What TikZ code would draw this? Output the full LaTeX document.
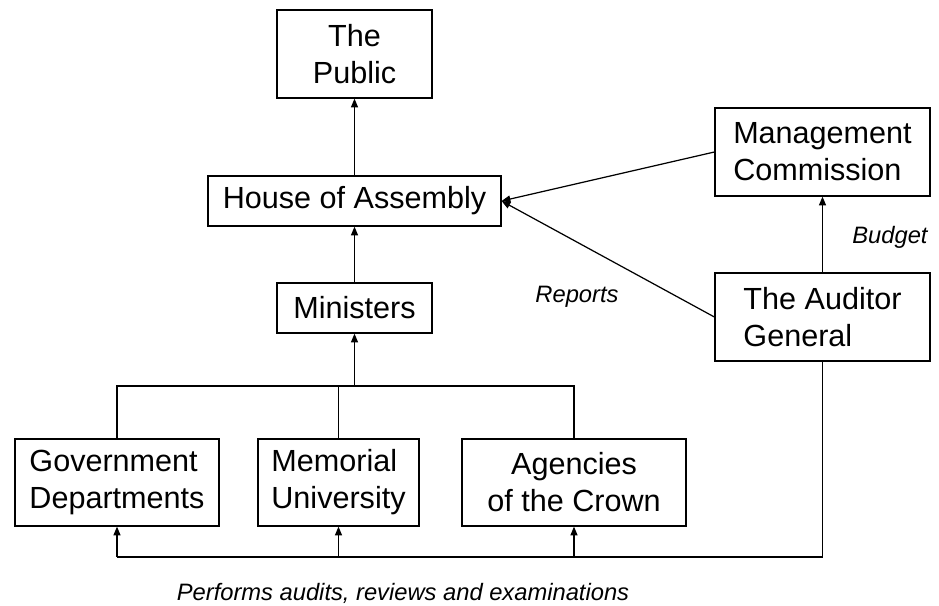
\documentclass[tikz,border=0pt]{standalone}
\usepackage{fontspec}
\setmainfont{Liberation Sans}
\usetikzlibrary{arrows.meta,positioning,calc}

\begin{document}
\begin{tikzpicture}[>={Triangle[length=5pt,width=4pt]},line width=0.7pt,font=\fontsize{17.4}{21}\selectfont,box/.style={draw,align=center,inner sep=2pt},lbox/.style={box,align=left},lab/.style={font=\fontsize{13.5}{16}\selectfont\itshape}]
\useasboundingbox (0,0) rectangle (18.78,-12.12);
\node[box,minimum width=3.1cm,minimum height=1.76cm] (pub) at (7.09,-1.08) {The\\Public};
\node[box,minimum width=5.86cm,minimum height=1cm] (hoa) at (7.09,-4.02) {House of Assembly};
\node[box,minimum width=3.1cm,minimum height=1cm] (min) at (7.09,-6.16) {Ministers};
\node[lbox,minimum width=4.3cm,minimum height=1.76cm] (mgmt) at (16.45,-3.04) {Management\\Commission};
\node[lbox,minimum width=4.3cm,minimum height=1.76cm] (aud) at (16.45,-6.34) {The Auditor\\General};
\node[lbox,minimum width=4.08cm,minimum height=1.74cm] (gov) at (2.34,-9.65) {Government\\Departments};
\node[lbox,minimum width=3.22cm,minimum height=1.74cm] (mem) at (6.77,-9.65) {Memorial\\University};
\node[box,minimum width=4.48cm,minimum height=1.74cm] (agc) at (11.48,-9.65) {Agencies\\of the Crown};
\coordinate (bus) at (0,-7.72);
\coordinate (bot) at (0,-11.14);
\draw[->] (hoa) -- (pub);
\draw[->] (min) -- (hoa);
\draw[->] (mgmt.west) -- (hoa.east);
\draw[->] (aud.west) -- (hoa.east);
\draw[->] (aud) -- (mgmt);
\node[lab] (bud) at (17.8,-4.74) {Budget};
\node[lab] (rep) at (11.54,-5.94) {Reports};
\draw (gov.north) |- (agc.north |- bus) -- (agc.north);
\draw (mem.north) -- (mem.north |- bus);
\draw[->] (min.south |- bus) -- (min.south);
\draw (aud.south) |- (gov.south |- bot);
\foreach \n in {gov,mem,agc} \draw[->] (\n.south |- bot) -- (\n.south);
\node[lab] (perf) at (8.06,-11.86) {Performs audits, reviews and examinations};
\end{tikzpicture}
\end{document}
